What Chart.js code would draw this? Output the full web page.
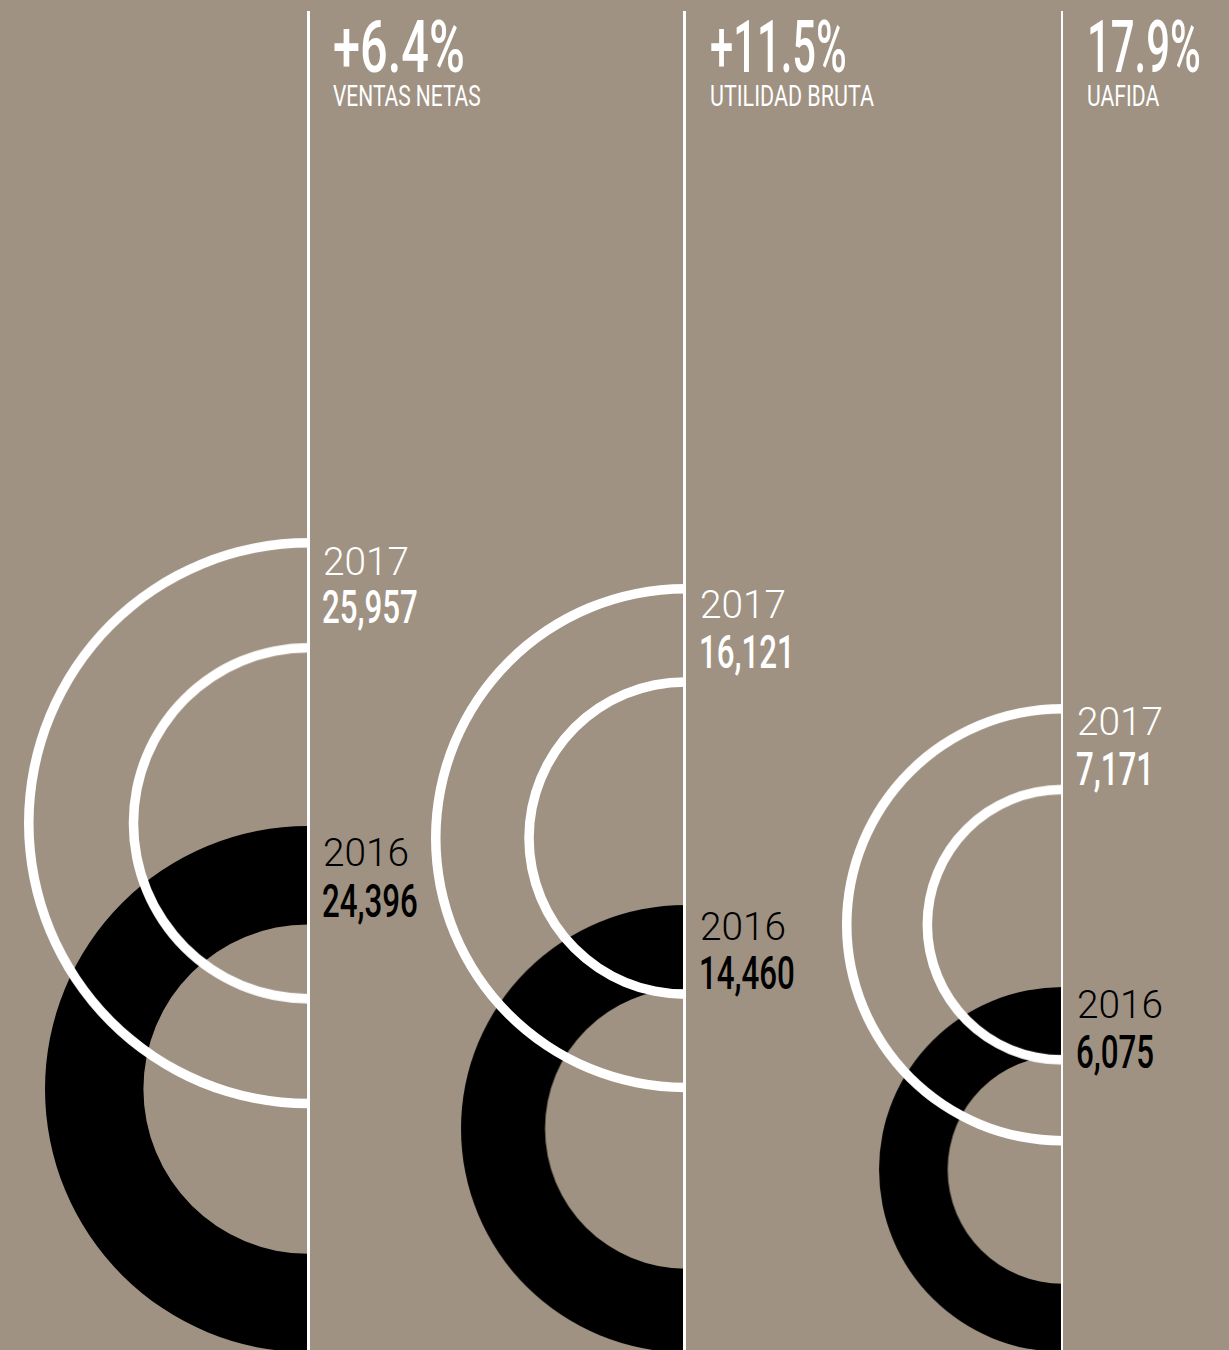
<!DOCTYPE html>
<html>
<head>
<meta charset="utf-8">
<script src="https://cdn.jsdelivr.net/npm/chart.js@4.4.0/dist/chart.umd.min.js"></script>
<style>
  html, body { margin: 0; padding: 0; width: 1229px; height: 1350px; overflow: hidden; background: #9f9282; }
  .ring { position: absolute; }
  .vline { position: absolute; top: 11px; height: 1340px; width: 2.5px; background: #fff; z-index: 5; }
  .txt { position: absolute; white-space: nowrap; line-height: 1; transform-origin: 0 0; z-index: 6; }
  .pct { font-family: Roboto, sans-serif; font-weight: 500; color: #fff; }
  .name { font-family: Roboto, sans-serif; font-weight: 400; color: #fff; }
  .year { font-family: Roboto, sans-serif; font-weight: 300; }
  .val { font-family: Roboto, sans-serif; font-weight: 500; }
</style>
</head>
<body>
<script>
// data
const metrics = ['VENTAS NETAS', 'UTILIDAD BRUTA', 'UAFIDA'];
const changes = ['+6.4%', '+11.5%', '17.9%'];
const years = ['2016', '2017'];
const values2016 = [24396, 14460, 6075];
const values2017 = [25957, 16121, 7171];

// layout
const lineX = [308.3, 684.7, 1062];
const pxPerUnit = [0.010784, 0.015467, 0.030047];
const top2017 = [543, 589, 709];      // top of the 2017 arc
const pageBottom = 1352;              // 2016 rings sit on the bottom edge
const cutoutRatio = 0.626;
const strokeW = 9.5;
const headX = 25;
const labelX = 15;
const changeWidth = [132, 137, 114];
const nameWidth = [148, 164, 72];
const yearBase2017 = [575, 618, 735];
const valueBase2017 = [623, 668, 785];
const yearBase2016 = [866, 940, 1018];
const valueBase2016 = [917, 989, 1068];

function addRing(cx, cy, outerR, innerR, datasets) {
  const pad = 4;
  const box = document.createElement('div');
  box.className = 'ring';
  box.style.left = (cx - outerR - pad) + 'px';
  box.style.top = (cy - outerR - pad) + 'px';
  box.style.width = (outerR + 2 * pad) + 'px';
  box.style.height = (2 * outerR + 2 * pad) + 'px';
  const canvas = document.createElement('canvas');
  box.appendChild(canvas);
  document.body.appendChild(box);
  return new Chart(canvas, {
    type: 'doughnut',
    data: { labels: ['valor'], datasets: datasets },
    options: {
      responsive: true,
      maintainAspectRatio: false,
      animation: false,
      events: [],
      rotation: 180,
      circumference: 180,
      radius: outerR,
      cutout: (innerR / outerR * 100) + '%',
      layout: { padding: 0 },
      plugins: {
        legend: { display: false },
        tooltip: { enabled: false }
      }
    }
  });
}

function addText(str, cls, x, baseline, size, color, scaleX, width) {
  const d = document.createElement('div');
  d.className = 'txt ' + cls;
  d.textContent = str;
  d.style.fontSize = size + 'px';
  d.style.left = x + 'px';
  if (color) d.style.color = color;
  const probe = document.createElement('span');
  probe.style.display = 'inline-block';
  probe.style.width = '0';
  probe.style.height = '0';
  d.appendChild(probe);
  document.body.appendChild(d);
  d.style.top = (baseline - probe.offsetTop) + 'px';
  let sx = scaleX;
  if (width) sx = width / probe.offsetLeft;
  d.style.transform = 'scaleX(' + sx + ')';
}

// 2016: solid black rings
for (let i = 0; i < 3; i++) {
  const r = values2016[i] * pxPerUnit[i];
  addRing(lineX[i], pageBottom - r, r, r * cutoutRatio, [
    { label: years[0], data: [values2016[i]], backgroundColor: '#000', borderWidth: 0 }
  ]);
}

// 2017: white outline rings (outer edge, empty band, inner edge)
for (let i = 0; i < 3; i++) {
  const r = values2017[i] * pxPerUnit[i];
  const ri = r * cutoutRatio;
  const cy = top2017[i] + r;
  addRing(lineX[i], cy, r + strokeW / 2, ri - strokeW / 2, [
    { label: years[1], data: [values2017[i]], backgroundColor: '#fff', borderWidth: 0, weight: strokeW },
    { label: years[1], data: [values2017[i]], backgroundColor: 'rgba(0,0,0,0)', borderWidth: 0, weight: r - ri - strokeW },
    { label: years[1], data: [values2017[i]], backgroundColor: '#fff', borderWidth: 0, weight: strokeW }
  ]);
}

for (let i = 0; i < 3; i++) {
  const v = document.createElement('div');
  v.className = 'vline';
  v.style.left = (lineX[i] - 1.25) + 'px';
  document.body.appendChild(v);

  const x = lineX[i];
  addText(changes[i], 'pct', x + headX, 72, 72, null, 1, changeWidth[i]);
  addText(metrics[i], 'name', x + headX, 106, 30, null, 1, nameWidth[i]);

  addText(years[1], 'year', x + labelX, yearBase2017[i], 38, '#fff', 1.02);
  addText(values2017[i].toLocaleString('en-US'), 'val', x + labelX - 1, valueBase2017[i], 46, '#fff', 0.68);
  addText(years[0], 'year', x + labelX, yearBase2016[i], 38, '#000', 1.02);
  addText(values2016[i].toLocaleString('en-US'), 'val', x + labelX - 1, valueBase2016[i], 46, '#000', 0.68);
}
</script>
</body>
</html>
